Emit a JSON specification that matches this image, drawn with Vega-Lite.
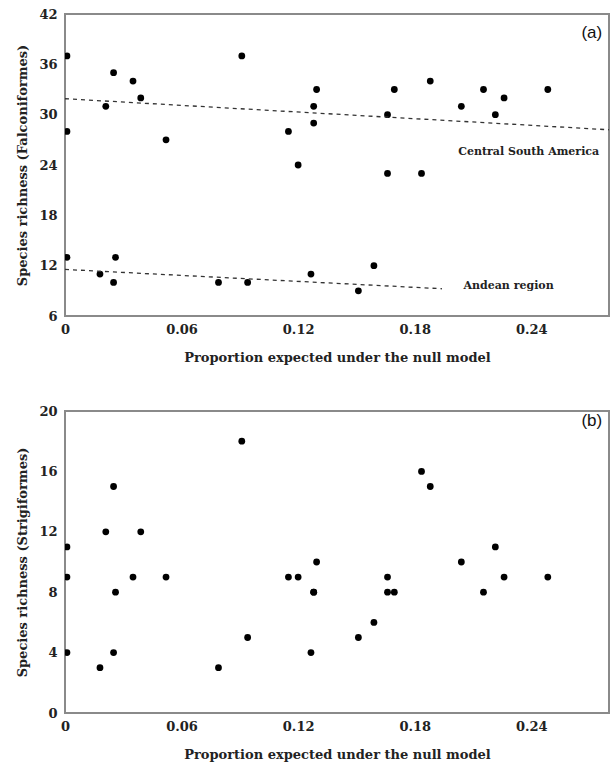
{
  "$schema": "https://vega.github.io/schema/vega-lite/v6.json",
  "padding": {"left": 15, "top": 7, "right": 2, "bottom": 5},
  "background": "white",
  "datasets": {
    "sites": [
      {"x": 0.001, "falcon": 37, "strig": 11, "region": "Central South America"},
      {"x": 0.001, "falcon": 28, "strig": 9, "region": "Central South America"},
      {"x": 0.001, "falcon": 13, "strig": 4, "region": "Andean region"},
      {"x": 0.018, "falcon": 11, "strig": 3, "region": "Andean region"},
      {"x": 0.021, "falcon": 31, "strig": 12, "region": "Central South America"},
      {"x": 0.025, "falcon": 35, "strig": 15, "region": "Central South America"},
      {"x": 0.025, "falcon": 10, "strig": 4, "region": "Andean region"},
      {"x": 0.026, "falcon": 13, "strig": 8, "region": "Andean region"},
      {"x": 0.035, "falcon": 34, "strig": 9, "region": "Central South America"},
      {"x": 0.039, "falcon": 32, "strig": 12, "region": "Central South America"},
      {"x": 0.052, "falcon": 27, "strig": 9, "region": "Central South America"},
      {"x": 0.079, "falcon": 10, "strig": 3, "region": "Andean region"},
      {"x": 0.091, "falcon": 37, "strig": 18, "region": "Central South America"},
      {"x": 0.094, "falcon": 10, "strig": 5, "region": "Andean region"},
      {"x": 0.115, "falcon": 28, "strig": 9, "region": "Central South America"},
      {"x": 0.120, "falcon": 24, "strig": 9, "region": "Central South America"},
      {"x": 0.1266, "falcon": 11, "strig": 4, "region": "Andean region"},
      {"x": 0.128, "falcon": 31, "strig": 8, "region": "Central South America"},
      {"x": 0.128, "falcon": 29, "strig": 8, "region": "Central South America"},
      {"x": 0.1295, "falcon": 33, "strig": 10, "region": "Central South America"},
      {"x": 0.151, "falcon": 9, "strig": 5, "region": "Andean region"},
      {"x": 0.159, "falcon": 12, "strig": 6, "region": "Andean region"},
      {"x": 0.166, "falcon": 30, "strig": 9, "region": "Central South America"},
      {"x": 0.166, "falcon": 23, "strig": 8, "region": "Central South America"},
      {"x": 0.1695, "falcon": 33, "strig": 8, "region": "Central South America"},
      {"x": 0.1835, "falcon": 23, "strig": 16, "region": "Central South America"},
      {"x": 0.188, "falcon": 34, "strig": 15, "region": "Central South America"},
      {"x": 0.204, "falcon": 31, "strig": 10, "region": "Central South America"},
      {"x": 0.2154, "falcon": 33, "strig": 8, "region": "Central South America"},
      {"x": 0.2215, "falcon": 30, "strig": 11, "region": "Central South America"},
      {"x": 0.226, "falcon": 32, "strig": 9, "region": "Central South America"},
      {"x": 0.2485, "falcon": 33, "strig": 9, "region": "Central South America"}
    ],
    "trend": [
      {"x": 0.0, "y": 31.9, "region": "Central South America"},
      {"x": 0.28, "y": 28.2, "region": "Central South America"},
      {"x": 0.0, "y": 11.55, "region": "Andean region"},
      {"x": 0.194, "y": 9.25, "region": "Andean region"}
    ],
    "regionLabels": [
      {"x": 0.2024, "y": 25.6, "label": "Central South America"},
      {"x": 0.2051, "y": 9.6, "label": "Andean region"}
    ],
    "panelA": [{"x": 0.2765, "y": 39.7, "label": "(a)"}],
    "panelB": [{"x": 0.2765, "y": 19.35, "label": "(b)"}]
  },
  "config": {
    "view": {"stroke": "#8a8a8a", "strokeWidth": 2},
    "axis": {
      "grid": false,
      "ticks": false,
      "domain": false,
      "labelFont": "DejaVu Serif",
      "labelFontWeight": "bold",
      "labelFontSize": 13,
      "labelColor": "#222222",
      "titleFont": "DejaVu Serif",
      "titleFontWeight": "bold",
      "titleFontSize": 13,
      "titleColor": "#222222"
    },
    "axisX": {"labelPadding": 7, "titlePadding": 15},
    "axisY": {"labelPadding": 8, "titlePadding": 9}
  },
  "spacing": 39,
  "vconcat": [
    {
      "width": 544,
      "height": 302,
      "layer": [
        {
          "data": {"name": "sites"},
          "mark": {"type": "point", "filled": true, "color": "black", "opacity": 1, "size": 46, "clip": true},
          "encoding": {
            "x": {"field": "x", "type": "quantitative", "scale": {"domain": [0, 0.28], "nice": false, "zero": false}, "axis": {"values": [0, 0.06, 0.12, 0.18, 0.24], "format": "~g", "title": "Proportion expected under the null model", "labelFlush": false}},
            "y": {"field": "falcon", "type": "quantitative", "scale": {"domain": [6, 42], "nice": false, "zero": false}, "axis": {"values": [6, 12, 18, 24, 30, 36, 42], "title": "Species richness (Falconiformes)", "labelFlush": false}}
          }
        },
        {
          "data": {"name": "trend"},
          "mark": {"type": "line", "color": "#333333", "strokeWidth": 1.3, "strokeDash": [4, 4]},
          "encoding": {
            "x": {"field": "x", "type": "quantitative"},
            "y": {"field": "y", "type": "quantitative"},
            "detail": {"field": "region"}
          }
        },
        {
          "data": {"name": "regionLabels"},
          "mark": {"type": "text", "align": "left", "baseline": "middle", "font": "DejaVu Serif", "fontWeight": "bold", "fontSize": 11, "color": "#222222"},
          "encoding": {
            "x": {"field": "x", "type": "quantitative"},
            "y": {"field": "y", "type": "quantitative"},
            "text": {"field": "label"}
          }
        },
        {
          "data": {"name": "panelA"},
          "mark": {"type": "text", "align": "right", "baseline": "middle", "font": "Liberation Sans", "fontSize": 17, "color": "#111111"},
          "encoding": {
            "x": {"field": "x", "type": "quantitative"},
            "y": {"field": "y", "type": "quantitative"},
            "text": {"field": "label"}
          }
        }
      ]
    },
    {
      "width": 544,
      "height": 302,
      "layer": [
        {
          "data": {"name": "sites"},
          "mark": {"type": "point", "filled": true, "color": "black", "opacity": 1, "size": 46, "clip": true},
          "encoding": {
            "x": {"field": "x", "type": "quantitative", "scale": {"domain": [0, 0.28], "nice": false, "zero": false}, "axis": {"values": [0, 0.06, 0.12, 0.18, 0.24], "format": "~g", "title": "Proportion expected under the null model", "labelFlush": false}},
            "y": {"field": "strig", "type": "quantitative", "scale": {"domain": [0, 20], "nice": false}, "axis": {"values": [0, 4, 8, 12, 16, 20], "title": "Species richness (Strigiformes)", "labelFlush": false}}
          }
        },
        {
          "data": {"name": "panelB"},
          "mark": {"type": "text", "align": "right", "baseline": "middle", "font": "Liberation Sans", "fontSize": 17, "color": "#111111"},
          "encoding": {
            "x": {"field": "x", "type": "quantitative"},
            "y": {"field": "y", "type": "quantitative"},
            "text": {"field": "label"}
          }
        }
      ]
    }
  ]
}
